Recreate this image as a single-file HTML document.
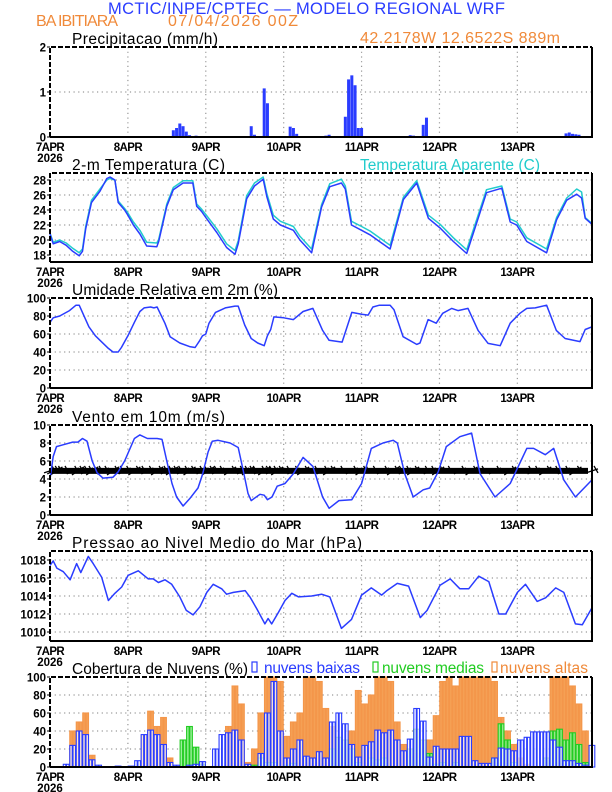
<!DOCTYPE html>
<html><head><meta charset="utf-8"><style>
html,body{margin:0;padding:0;background:#fff;}
svg{display:block;font-family:"Liberation Sans",sans-serif;}
.tk{font-size:11.5px;font-weight:bold;fill:#000;}
.tt{font-size:15.5px;fill:#000;}
</style></head><body>
<svg id="chart" width="612" height="792" viewBox="0 0 612 792" xmlns="http://www.w3.org/2000/svg">
<text x="108" y="14" font-size="16.5" fill="#2a3cff" textLength="397" lengthAdjust="spacing">MCTIC/INPE/CPTEC — MODELO REGIONAL WRF</text>
<text x="36" y="26" font-size="16" fill="#f08a3a" textLength="82" lengthAdjust="spacing">BA IBITIARA</text>
<text x="168" y="26" font-size="16" fill="#f08a3a" textLength="130" lengthAdjust="spacing">07/04/2026 00Z</text>
<text x="360" y="43" font-size="16" fill="#f08a3a" textLength="200" lengthAdjust="spacing">42.2178W 12.6522S 889m</text>
<g id="plots"></g>
</svg>
<script>
// ---------- data ----------
const dayLabels = ["7APR","8APR","9APR","10APR","11APR","12APR","13APR"];
const yearLabel = "2026";
const precipHours = [38,39,40,41,42,43,45,62,63,66,67,74,75,76,85,86,88,91,92,93,94,95,96,110,111,112,115,116,140,145,150,159,160,161,162,163];
const precipValues = [.15,.2,.3,.24,.12,.04,.03,.24,.05,1.08,.75,.23,.2,.07,.03,.05,.02,.45,1.28,1.37,1.15,.2,.2,.02,.04,.03,.27,.43,.02,.02,.02,.08,.1,.07,.06,.05];
const precipTicks = [0,1,2];

const tempHours = [0,1,3,5,7,9,10,11,12.8,15.4,17.5,18.5,20,21,23,24,25.7,27.7,29.8,32.9,33.5,36,38,41,44,45.2,46.7,48,51.4,54.4,57,58,60.6,63,65.7,66.8,68.8,71,75,77,80.6,83.7,86.2,89.8,91,92.9,96,98.6,104.8,108.9,113,116.6,120.2,124.3,128.4,134.5,139.2,141.8,143.8,146.9,153,156.1,159.2,162.3,163.8,164.9,167];
const tempValues = [20.8,19.5,19.8,19.3,18.5,17.9,18.5,21.5,25,26.5,28.2,28.4,28,25,24,23.3,22,20.8,19.2,19.1,19.8,24.5,26.7,27.6,27.6,24.5,23.8,23,21,19,18.1,19.5,25.5,27.2,28.1,25.8,22.8,22,21.3,20,18.3,24.4,27.1,27.6,26.8,22,21.3,20.7,18.8,25.4,27.6,22.9,21.6,19.8,18.2,26.3,26.9,22.4,22,19.8,18.3,22.7,25.3,26.1,25.6,22.9,22.1];
const apparentValues = [20.9,19.7,20.0,19.6,18.9,18.3,18.8,21.8,25.3,26.8,28.0,28.2,28.0,25.2,24.2,23.6,22.4,21.3,19.7,19.6,20.1,24.8,27.0,27.9,27.9,24.8,24.1,23.4,21.5,19.5,18.6,19.9,25.9,27.6,28.4,26.2,23.3,22.5,21.8,20.5,18.8,24.7,27.5,28.1,27.2,22.5,21.8,21.2,19.3,25.7,27.9,23.3,22.1,20.3,18.7,26.7,27.2,22.8,22.4,20.3,18.8,23,25.6,26.8,26.4,23,22.2];
const tempTicks = [18,20,22,24,26,28];

const rhHours = [0,1,3,6,8,9,12,14,15.4,18,19.4,21,22,24,26,27.7,29,31,32,33,35.4,37,40,43,44.7,46,47,48,49,51,54,57,58,60,62,64,66,67,68,69,72,75,78,81,84,86,90,93,96,98,99.5,101.5,104.8,106,108.8,113,114,116.5,119,121,123.8,125.7,128.8,131.9,135,138.7,141.8,144.8,146.9,149.5,153,156,158.7,163.3,164.9,167];
const rhValues = [73,78,80,86,92,92,68,58,53,44,40,40,45,58,73,85,89,90,89,90,72,57,50,46,45,52,58,60,72,84,89,91,91,70,55,50,47,58,65,79,78,76,85,88.5,64,53,51,84,82,81,90,92,92,87,57,48.5,50,76,72,83,88.5,86,88.5,64,49.6,47,72,83,88.5,89,92,64,55,51.5,65,68];
const rhTicks = [0,20,40,60,80,100];

const windHours = [0,1,2,4,7,8.6,10,11.4,13,14.5,16.3,19.4,21,23,26,27.7,30,33,34.5,36,37.6,39,41,43,45.6,47,48.7,50,51.8,55.5,58,59.5,61,62,64.7,66,67,68.4,70,72.4,75,78,81,84,86,89,93,96,99,102.6,105.7,107,109.3,111.9,115,117,119.6,122.1,126.3,129.9,132.5,137.1,141.8,146.9,149,152.6,155.2,158.3,161.9,167];
const windValues = [4,6.5,7.6,7.8,8.1,8.1,8.5,8.2,6,4.7,4.1,4.2,4.8,6,8.5,8.9,8.5,8.5,8.4,6,3.5,2,1,1.8,3,4.5,7,8.2,8.3,8,7.5,5,2.4,1.6,2.3,2.2,1.7,2,3.2,3.5,4.6,6.4,5.4,2,0.74,1.6,1.7,3.5,7.4,8,8.3,8,4.6,2,2.8,3,4.8,7.6,8.7,9.1,4.6,2,3.5,7.4,7.4,6.7,7.4,3.9,2,3.9];
const windTicks = [0,2,4,6,8,10];
const barbLevel = 4.9;

const presHours = [0,1,2.1,4.1,6.2,8.2,9.5,11.8,13.3,15.9,18,20,22.1,24.1,27.2,30.3,31.8,33.4,35.4,37.5,40,42,44.1,46.2,48.3,50.3,52.9,54.4,56.5,60.1,61.6,63.7,66.2,67.2,68.3,70.4,72.4,74.5,76.6,80.6,83.7,86.2,89.8,92.9,96,99,102.2,103.8,107,110.5,114.1,116.2,120.2,123.3,126.3,129,132.1,135.2,138.3,140.4,144,146.5,150.1,152.7,155.8,158.3,161.9,164,167];
const presValues = [1017.4,1017.9,1017.1,1016.7,1015.8,1017.6,1016.6,1018.4,1017.6,1016.1,1013.5,1014.3,1015,1016.3,1016.8,1015.9,1015.9,1015.5,1015.8,1015.3,1013.9,1012.4,1011.9,1012.8,1014.4,1015.3,1014.8,1014.2,1014.4,1014.6,1013.9,1012.6,1010.9,1011.5,1010.9,1012.2,1013.5,1014.3,1013.9,1014,1014.2,1013.9,1010.4,1011.4,1014.1,1014.9,1014.1,1014.6,1015.4,1015.1,1011.6,1012.4,1015.2,1015.9,1014.8,1014.8,1016.2,1015.6,1012,1012,1014.4,1015.3,1013.4,1013.8,1014.9,1014.4,1010.9,1010.8,1012.7];
const presTicks = [1010,1012,1014,1016,1018];

const cloudLow = [0,0,3,24,40,36,8,2,0,0, 1,0,1,7,36,41,36,25,5,2, 0,2,3,6,0,20,36,38,41,30, 3,0,15,60,95,40,10,20,30,12, 10,17,10,50,60,48,25,11,24,28, 41,38,41,30,18,31,65,51,11,23, 20,20,20,34,34,7,4,4,10,21, 20,18,30,33,39,39,39,30,22,7, 7,4,2,24];
const cloudMid = [0,0,0,0,0,0,0,0,0,0, 0,0,0,0,0,0,0,0,0,0, 30,45,22,3,0,0,0,0,0,0, 0,2,10,5,5,0,2,4,0,0, 0,0,0,20,33,30,20,5,0,10, 8,10,0,0,0,20,42,30,15,3, 5,0,5,0,0,0,0,0,10,48, 30,5,0,0,0,0,10,40,42,30, 38,25,5,0];
const cloudHigh = [0,0,0,40,50,60,13,0,0,0, 0,0,0,0,35,62,45,55,10,0, 0,0,0,0,0,0,0,45,90,70, 5,20,60,100,100,95,34,50,60,100, 100,95,65,45,20,20,40,85,70,80, 100,100,95,50,25,12,15,20,30,57, 95,100,90,100,100,100,100,100,95,55, 40,25,10,3,0,0,0,100,100,100, 90,70,40,0];
const cloudTicks = [0,20,40,60,80,100];

// ---------- layout ----------
const NS = "http://www.w3.org/2000/svg";
const X0 = 50, X1 = 592, HMAX = 167;
const xh = h => X0 + (X1 - X0) * h / HMAX;
const root = document.getElementById("plots");
function el(tag, attrs, parent) {
  const e = document.createElementNS(NS, tag);
  for (const k in attrs) e.setAttribute(k, attrs[k]);
  (parent || root).appendChild(e);
  return e;
}
function panel(name, top, bottom, ymin, ymax, ticks, title, titleW) {
  const g = el("g", {});
  
  
  const y = v => bottom - (bottom - top) * (v - ymin) / (ymax - ymin);
  for (let d = 1; d < 7; d++) {
    const gl = el("line", {x1: xh(d*24), x2: xh(d*24), y1: top, y2: bottom, stroke: "#999", "stroke-width": 1.2, "stroke-dasharray": "1.2,3.5"}, g);
    
    
  }
  ticks.forEach(t => {
    const yy = y(t);
    if (yy > top + 2 && yy < bottom - 2) {
      const gl = el("line", {x1: X0, x2: X1, y1: yy, y2: yy, stroke: "#999", "stroke-width": 1.2, "stroke-dasharray": "1.2,3.5"}, g);
      
      
    }
    const tk = el("line", {x1: X0 - 3, x2: X0, y1: yy, y2: yy, stroke: "#000", "stroke-width": 1}, g);
    
    
    const tl = el("text", {x: X0 - 4, y: yy + 4.5, "text-anchor": "end", "class": "tk"}, g);
    tl.textContent = t;
    
    
  });
  dayLabels.forEach((lab, i) => {
    const t = el("text", {x: xh(i*24), y: bottom + 14, "text-anchor": "middle", "class": "tk", "letter-spacing": "-0.6"}, g);
    t.textContent = lab;
    
    
  });
  const yr = el("text", {x: X0, y: bottom + 25, "text-anchor": "middle", "class": "tk"}, g);
  yr.textContent = yearLabel;
  
  
  const tt = el("text", {x: 72, y: top - 3, "class": "tt", textLength: titleW, lengthAdjust: "spacing"}, g);
  tt.textContent = title;
  
  
  return {g, y, top, bottom};
}
function frame(p) {
  const f = el("path", {d: `M${X0},${p.bottom}H${X1}V${p.top}`, fill: "none", stroke: "#000", "stroke-width": 2}, p.g);
  
  
  const d = el("path", {d: `M${X0},${p.bottom}V${p.top}H${X1}`, fill: "none", stroke: "#000", "stroke-width": 2, "stroke-dasharray": "5,2"}, p.g);
  
  
}
function line(p, hours, vals, color, name) {
  const pts = hours.map((h, i) => xh(h).toFixed(1) + "," + p.y(vals[i]).toFixed(1)).join(" ");
  const l = el("polyline", {points: pts, fill: "none", stroke: color, "stroke-width": 1.5, "stroke-linejoin": "round"}, p.g);
  
  
}

// Precip
const p1 = panel("precipitation", 47, 137, 0, 2, precipTicks, "Precipitacao (mm/h)", 146);
precipHours.forEach((h, i) => {
  const yy = p1.y(precipValues[i]);
  const b = el("rect", {x: xh(h) - 1.5, y: yy, width: 3, height: p1.bottom - yy, fill: "#2a3cff"}, p1.g);
  
  
});
frame(p1);

// Temperature
const p2 = panel("temperature", 173, 262, 17.07, 28.93, tempTicks, "2-m Temperatura (C)", 153);
line(p2, tempHours, apparentValues, "#22cccc", "apparent-temperature-line");
line(p2, tempHours, tempValues, "#2a3cff", "temperature-line");
const ta = el("text", {x: 360, y: 170, "font-size": 15.5, fill: "#22cccc", textLength: 180, lengthAdjust: "spacing"}, p2.g);
ta.textContent = "Temperatura Aparente (C)";


frame(p2);

// RH
const p3 = panel("humidity", 298, 388, 0, 100, rhTicks, "Umidade Relativa em 2m (%)", 206);
line(p3, rhHours, rhValues, "#2a3cff", "humidity-line");
frame(p3);

// Wind
const p4 = panel("wind", 425, 515, 0, 10, windTicks, "Vento em 10m (m/s)", 153);
const by = p4.y(barbLevel);
const band = el("line", {x1: X0, x2: X1 - 4, y1: by, y2: by, stroke: "#000", "stroke-width": 6}, p4.g);


windHours.forEach((h, i) => {
  const bx = xh(h);
  const s = (i % 3) - 1;
  const bb = el("path", {d: `M${bx - 6},${by + 3 + s}L${bx + 6},${by - 3 - s}M${bx + 2},${by - 5}L${bx + 6},${by + 2}`, stroke: "#000", "stroke-width": 1.3, fill: "none"}, p4.g);
  
  
});
line(p4, windHours, windValues, "#2a3cff", "wind-speed-line");
frame(p4);

// Pressure
const p5 = panel("pressure", 551, 641, 1009, 1019, presTicks, "Pressao ao Nivel Medio do Mar (hPa)", 290);
line(p5, presHours, presValues, "#2a3cff", "pressure-line");
frame(p5);

// Cloud
const p6 = panel("cloud-cover", 677, 767, 0, 100, cloudTicks, "Cobertura de Nuvens (%)", 176);
const cloudHours = cloudLow.map((v, i) => i * 2);
function bars(vals, fill, stroke, op, name) {
  vals.forEach((v, i) => {
    if (v <= 0) return;
    const yy = p6.y(v);
    [0, 1].forEach(k => {
      const x = xh(cloudHours[i] + k);
      const b = el("rect", {x: x + 0.3, y: yy, width: 2.5, height: p6.bottom - yy, fill: fill, "fill-opacity": op, stroke: stroke, "stroke-width": 1.1}, p6.g);
      
      
    });
  });
}
bars(cloudHigh, "#f5a055", "#f4964a", 1, "high-cloud-bar");
bars(cloudMid, "#90ee90", "#22cc22", 0.9, "mid-cloud-bar");
bars(cloudLow, "#ffffff", "#2a3cff", 0.75, "low-cloud-bar");
frame(p6);
const legend = [
  [252, 264, 96, "#2a3cff", "nuvens baixas", "legend-low-clouds"],
  [373, 382, 102, "#22cc22", "nuvens medias", "legend-mid-clouds"],
  [492, 500, 88, "#f08a3a", "nuvens altas", "legend-high-clouds"]
];
legend.forEach(L => {
  const g = el("g", {}, p6.g);
  
  
  el("rect", {x: L[0], y: 662, width: 5, height: 10, fill: "none", stroke: L[3], "stroke-width": 1.2}, g);
  const t = el("text", {x: L[1], y: 673, "font-size": 15.5, fill: L[3], textLength: L[2], lengthAdjust: "spacing"}, g);
  t.textContent = L[4];
});
</script>
</body></html>
